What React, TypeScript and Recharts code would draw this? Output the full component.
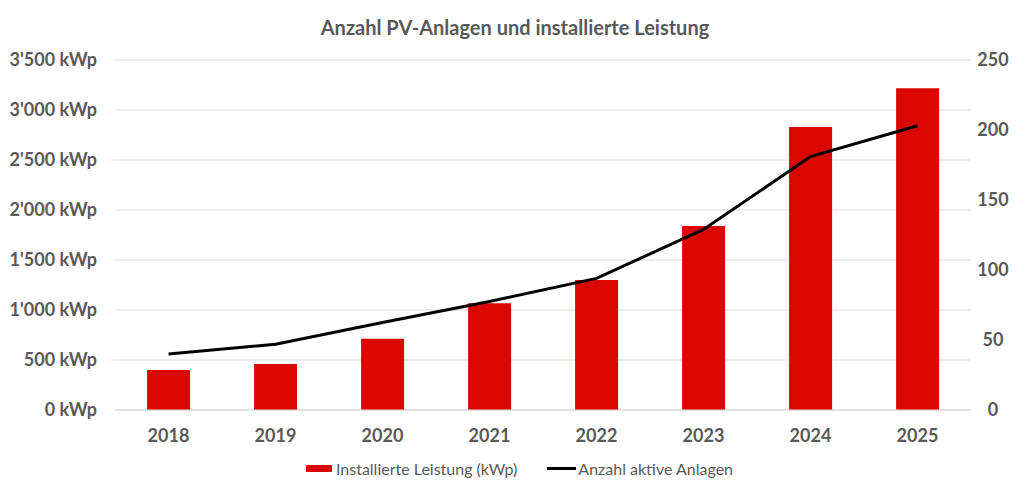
import { ComposedChart, Bar, Line, XAxis, YAxis, CartesianGrid, Legend } from "recharts";

const years = ["2018", "2019", "2020", "2021", "2022", "2023", "2024", "2025"];
const leistungKwp = [400, 460, 713, 1067, 1300, 1840, 2830, 3217];
const anzahlAnlagen = [40, 47, 62.5, 77.5, 94, 129, 181, 203];
const leftTicks = [0, 500, 1000, 1500, 2000, 2500, 3000, 3500];
const rightTicks = [0, 50, 100, 150, 200, 250];

const data = years.map((year, i) => ({
  year,
  leistung: leistungKwp[i],
  anlagen: anzahlAnlagen[i],
}));

const GRAY = "#595959";
const RED = "#DA0700";
const FONT = "Lato, 'Noto Sans', sans-serif";

const fmtKwp = (v: number) => {
  const s = String(v).replace(/\B(?=(\d{3})+(?!\d))/g, "'");
  return `${s} kWp`;
};

const LeftTick = ({ y, payload }: any) => (
  <text x={97} y={y} dy={6} textAnchor="end" fill={GRAY} fontSize={18} fontWeight={700} fontFamily={FONT}>
    {fmtKwp(payload.value)}
  </text>
);

const RightTick = ({ y, payload }: any) => (
  <text x={993} y={y} dy={6} textAnchor="middle" fill={GRAY} fontSize={18} fontWeight={700} fontFamily={FONT}>
    {payload.value}
  </text>
);

const BottomTick = ({ x, y, payload }: any) => (
  <text x={x} y={y} dy={24} textAnchor="middle" fill={GRAY} fontSize={18} fontWeight={700} fontFamily={FONT}>
    {payload.value}
  </text>
);

const LegendContent = () => (
  <div
    style={{
      display: "flex",
      justifyContent: "center",
      alignItems: "center",
      fontFamily: FONT,
      fontSize: 16,
      color: GRAY,
      marginLeft: 8,
    }}
  >
    <span style={{ display: "inline-block", width: 26, height: 7, background: RED, marginRight: 4 }} />
    <span>Installierte Leistung (kWp)</span>
    <span style={{ display: "inline-block", width: 29, height: 3, background: "#000", marginLeft: 30, marginRight: 2 }} />
    <span>Anzahl aktive Anlagen</span>
  </div>
);

export default function App() {
  return (
    <div style={{ position: "absolute", left: 0, top: 0, width: 1030, height: 495, background: "#fff" }}>
      <div
        style={{
          position: "absolute",
          top: 15,
          left: 0,
          width: 1030,
          textAlign: "center",
          fontFamily: FONT,
          fontWeight: 700,
          fontSize: 20,
          color: GRAY,
        }}
      >
        Anzahl PV-Anlagen und installierte Leistung
      </div>
      <ComposedChart
        width={1030}
        height={495}
        data={data}
        margin={{ top: 60, right: 9, bottom: 16, left: 10 }}
        barCategoryGap="30%"
      >
        <CartesianGrid yAxisId="left" vertical={false} stroke="#d9d9d9" />
        <XAxis
          dataKey="year"
          axisLine={{ stroke: "#d9d9d9" }}
          tickLine={false}
          tick={<BottomTick />}
          height={49}
        />
        <YAxis
          yAxisId="left"
          orientation="left"
          domain={[0, 3500]}
          ticks={leftTicks}
          width={105}
          axisLine={false}
          tickLine={false}
          tick={<LeftTick />}
        />
        <YAxis
          yAxisId="right"
          orientation="right"
          domain={[0, 250]}
          ticks={rightTicks}
          width={50}
          axisLine={false}
          tickLine={false}
          tick={<RightTick />}
        />
        <Legend verticalAlign="bottom" height={20} content={<LegendContent />} />
        <Bar yAxisId="left" dataKey="leistung" name="Installierte Leistung (kWp)" fill={RED} isAnimationActive={false} />
        <Line
          yAxisId="right"
          dataKey="anlagen"
          name="Anzahl aktive Anlagen"
          stroke="#000"
          strokeWidth={3}
          dot={false}
          type="linear"
          isAnimationActive={false}
        />
      </ComposedChart>
    </div>
  );
}
